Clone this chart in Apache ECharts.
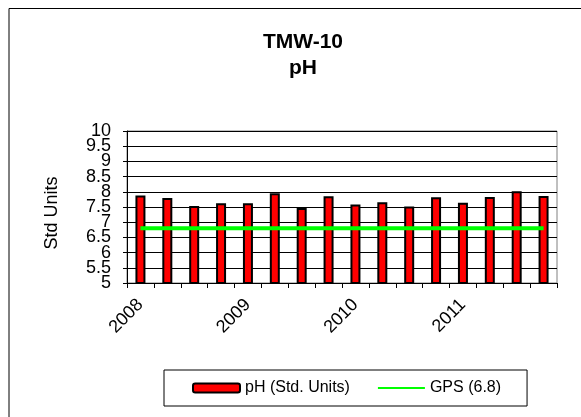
<!DOCTYPE html>
<html>
<head>
<meta charset="utf-8">
<script src="https://cdn.jsdelivr.net/npm/echarts@6/dist/echarts.min.js"></script>
<style>
  html, body { margin: 0; padding: 0; background: #fff; }
  #chart { width: 581px; height: 417px; }
</style>
</head>
<body>
<div id="chart"></div>
<script>
// quarterly samples, only the first quarter of each year gets a label
const categories = [
  '2008 Q1', '2008 Q2', '2008 Q3', '2008 Q4',
  '2009 Q1', '2009 Q2', '2009 Q3', '2009 Q4',
  '2010 Q1', '2010 Q2', '2010 Q3', '2010 Q4',
  '2011 Q1', '2011 Q2', '2011 Q3', '2011 Q4'
]
const phValues = [7.88, 7.8, 7.53, 7.62, 7.62, 7.95, 7.47, 7.85, 7.58, 7.66, 7.52, 7.82, 7.64, 7.83, 8.02, 7.86]
const gpsValues = [6.8, 6.8, 6.8, 6.8, 6.8, 6.8, 6.8, 6.8, 6.8, 6.8, 6.8, 6.8, 6.8, 6.8, 6.8, 6.8]
const yTicks = [5, 5.5, 6, 6.5, 7, 7.5, 8, 8.5, 9, 9.5, 10]

const font = 'Liberation Sans, Arial, sans-serif'
const chart = echarts.init(document.getElementById('chart'))

// labels are 18px tall but only 15px apart, so split them over two
// overlaid axes, otherwise echarts drops some of them
const wholeTicks = yTicks.filter(v => Number.isInteger(v))
const halfTicks = yTicks.filter(v => !Number.isInteger(v))

function labelAxis(values, main) {
  return {
    type: 'value',
    position: 'left',
    min: yTicks[0],
    max: yTicks[yTicks.length - 1],
    interval: 0.5,
    name: main ? 'Std Units' : '',
    nameLocation: 'middle',
    nameGap: 66,
    nameTextStyle: { fontFamily: font, fontSize: 18, color: '#000', padding: [0, 12, 0, 0] },
    axisLine: { show: main, lineStyle: { color: '#000' } },
    axisTick: { show: main, length: 4, lineStyle: { color: '#000' } },
    axisLabel: {
      margin: 16,
      fontFamily: font,
      fontSize: 18,
      color: '#000',
      customValues: values,
      showMinLabel: true,
      showMaxLabel: true
    },
    splitLine: { show: main, lineStyle: { color: '#000', width: 1 } }
  }
}

chart.setOption({
  backgroundColor: '#fff',
  animation: false,
  textStyle: { fontFamily: font },
  title: {
    text: 'TMW-10\npH',
    left: 298,
    top: 24,
    textAlign: 'center',
    textStyle: { fontFamily: font, fontSize: 21, fontWeight: 'bold', color: '#000', lineHeight: 26 }
  },
  graphic: [{
    type: 'polyline',
    shape: { points: [[9, 417], [9, 8.5], [581, 8.5]] },
    style: { stroke: '#000', lineWidth: 1, fill: null }
  }],
  grid: {
    left: 127,
    right: 24,
    top: 131,
    bottom: 134,
    show: true,
    borderColor: '#808080',
    borderWidth: 1
  },
  legend: {
    left: 164,
    top: 370,
    padding: [10, 26, 10, 28],
    borderColor: '#000',
    borderWidth: 1,
    itemWidth: 47,
    itemHeight: 9,
    itemGap: 27,
    textStyle: { fontFamily: font, fontSize: 16, color: '#000' },
    data: [
      { name: 'pH (Std. Units)' },
      { name: 'GPS (6.8)', itemStyle: { opacity: 0 } }
    ]
  },
  xAxis: {
    type: 'category',
    data: categories,
    axisLine: { lineStyle: { color: '#000', width: 1 } },
    axisTick: { show: true, length: 5, interval: 0, lineStyle: { color: '#000' } },
    axisLabel: {
      interval: 3,
      rotate: 45,
      margin: 19,
      fontFamily: font,
      fontSize: 18,
      color: '#000',
      formatter: v => v.slice(0, 4)
    }
  },
  yAxis: [labelAxis(wholeTicks, true), labelAxis(halfTicks, false)],
  series: [{
    name: 'pH (Std. Units)',
    type: 'bar',
    data: phValues,
    barWidth: 10,
    itemStyle: { color: '#ff0000', borderColor: '#000', borderWidth: 2 }
  }, {
    name: 'GPS (6.8)',
    type: 'line',
    data: gpsValues,
    symbol: 'none',
    lineStyle: { color: '#00ff00', width: 4 },
    itemStyle: { color: '#00ff00' }
  }]
})
</script>
</body>
</html>
